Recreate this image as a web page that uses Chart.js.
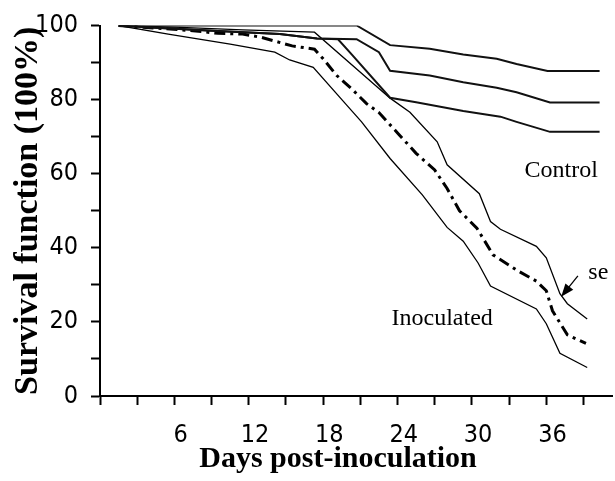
<!DOCTYPE html>
<html>
<head>
<meta charset="utf-8">
<script src="https://cdn.jsdelivr.net/npm/chart.js@4.4.1/dist/chart.umd.min.js"></script>
<style>
  html, body { margin: 0; padding: 0; background: #fff; }
  #wrap { width: 615px; height: 481px; }
</style>
</head>
<body>
<div id="wrap"><canvas id="chart"></canvas></div>
<script>
// days post-inoculation / survival (%)
const ctrlUpperDays = [1, 20.2, 22.9, 26.1, 28.8, 31.5, 33.1, 35.6, 39.8];
const ctrlUpper     = [100, 100, 94.7, 93.7, 92.2, 91, 89.6, 87.7, 87.7];

const ctrlMidDays = [1, 4, 9, 14, 17, 20.2, 22.0, 22.9, 26.1, 28.8, 31.5, 33.1, 35.8, 39.8];
const ctrlMid     = [100, 99.4, 98.5, 97.7, 96.5, 96.3, 92.8, 87.8, 86.5, 84.7, 83.2, 82, 79.2, 79.2];

const ctrlLowDays = [1, 4, 9, 14, 17, 18.7, 19.8, 22.9, 25, 28.8, 31.8, 33.1, 35.8, 39.8];
const ctrlLow     = [100, 99.4, 98.5, 97.7, 96.5, 96.3, 92.2, 80.5, 79.3, 76.9, 75.4, 74, 71.3, 71.3];

const inocUpperDays = [1, 6, 11, 16.8, 22.9, 24.5, 26.7, 27.5, 30.1, 31, 31.8, 34.7, 35.5, 36.6, 37.2, 38.8];
const inocUpper     = [100, 99.5, 98.8, 98.2, 80.4, 76.6, 68.6, 62.4, 54.6, 47.1, 45, 40.4, 37.3, 27.6, 24.9, 20.8];

const inocMeanDays = [1, 4, 7, 9, 11, 12.5, 15, 16.8, 17.5, 18.6, 19.8, 21, 22, 23.5, 25, 26.5, 27.5, 28.5, 29.9, 30.5, 31.2, 33.1, 34.7, 35.5, 36, 37.2, 38.7];
const inocMean     = [100, 99.3, 98.6, 97.9, 97.7, 96.8, 94.5, 93.6, 91, 86.5, 82.9, 78.9, 76.5, 71, 65.5, 61, 56, 50, 45.3, 42, 38.1, 34, 31, 28.4, 23, 16.5, 14.2];

const inocLowDays = [1, 5, 10, 13.6, 14.8, 16.7, 19.4, 20.6, 22.9, 25.5, 27.5, 28.8, 30, 31, 34.7, 35.5, 36.6, 38.8];
const inocLow     = [100, 97.7, 95, 92.8, 90.7, 88.7, 78.5, 74, 64.1, 54.3, 45.5, 41.8, 35.9, 29.7, 23.5, 19.5, 11.5, 7.7];

const xLabelDays = [6, 12, 18, 24, 30, 36];

// text notes placed in data coordinates
const noteTexts = ['Control', 'Inoculated', 'se'];
const noteDays  = [36.7, 27.1, 39.7];
const noteVals  = [60.8, 20.8, 33.2];
const arrowFrom = [38.05, 32.4];
const arrowTo   = [36.7, 26.8];

function pts(days, vals) {
    return days.map((d, i) => ({ x: d, y: vals[i] }));
}

const serif = "'Liberation Serif', 'Times New Roman', serif";
const narrow = "'Liberation Sans Narrow', 'DejaVu Sans Condensed', sans-serif";

const notesPlugin = {
    id: 'notes',
    afterDraw(chart) {
        const ctx = chart.ctx;
        const xs = chart.scales.x;
        const ys = chart.scales.y;
        ctx.save();
        ctx.fillStyle = '#000';
        ctx.font = '24px ' + serif;
        ctx.textAlign = 'center';
        ctx.textBaseline = 'middle';
        noteTexts.forEach((t, i) => {
            ctx.fillText(t, xs.getPixelForValue(noteDays[i]), ys.getPixelForValue(noteVals[i]));
        });

        // arrow to the se band
        const x1 = xs.getPixelForValue(arrowFrom[0]), y1 = ys.getPixelForValue(arrowFrom[1]);
        const x2 = xs.getPixelForValue(arrowTo[0]), y2 = ys.getPixelForValue(arrowTo[1]);
        const ang = Math.atan2(y2 - y1, x2 - x1);
        ctx.strokeStyle = '#000';
        ctx.lineWidth = 1.3;
        ctx.beginPath();
        ctx.moveTo(x1, y1);
        ctx.lineTo(x2 - 10 * Math.cos(ang), y2 - 10 * Math.sin(ang));
        ctx.stroke();
        ctx.beginPath();
        ctx.moveTo(x2, y2);
        ctx.lineTo(x2 - 13 * Math.cos(ang) + 5 * Math.sin(ang), y2 - 13 * Math.sin(ang) - 5 * Math.cos(ang));
        ctx.lineTo(x2 - 13 * Math.cos(ang) - 5 * Math.sin(ang), y2 - 13 * Math.sin(ang) + 5 * Math.cos(ang));
        ctx.closePath();
        ctx.fill();

        // x axis title
        ctx.font = 'bold 30px ' + serif;
        ctx.textAlign = 'center';
        ctx.textBaseline = 'alphabetic';
        ctx.fillText('Days post-inoculation', 338, 467);
        ctx.restore();
    }
};

const ctx = document.getElementById('chart');
new Chart(ctx, {
    type: 'line',
    data: {
        datasets: [
            { label: 'Control upper', data: pts(ctrlUpperDays, ctrlUpper), borderColor: '#111', borderWidth: 2 },
            { label: 'Control', data: pts(ctrlMidDays, ctrlMid), borderColor: '#111', borderWidth: 2 },
            { label: 'Control lower', data: pts(ctrlLowDays, ctrlLow), borderColor: '#111', borderWidth: 2 },
            { label: 'Inoculated upper', data: pts(inocUpperDays, inocUpper), borderColor: '#000', borderWidth: 1.3 },
            { label: 'Inoculated', data: pts(inocMeanDays, inocMean), borderColor: '#000', borderWidth: 3, borderDash: [11, 5, 3, 5] },
            { label: 'Inoculated lower', data: pts(inocLowDays, inocLow), borderColor: '#000', borderWidth: 1.3 }
        ]
    },
    options: {
        responsive: true,
        maintainAspectRatio: false,
        animation: false,
        devicePixelRatio: 1,
        layout: { padding: { top: 23, right: 3, bottom: 0, left: 0 } },
        elements: { point: { radius: 0 }, line: { tension: 0, fill: false } },
        plugins: { legend: { display: false }, tooltip: { enabled: false } },
        scales: {
            x: {
                type: 'linear',
                min: -0.5,
                max: 40.8,
                afterFit(scale) { scale.height = 85; },
                afterBuildTicks(scale) {
                    const t = [];
                    for (let v = -0.5; v < 40; v += 3) t.push({ value: v });
                    xLabelDays.forEach(d => t.push({ value: d }));
                    t.sort((a, b) => a.value - b.value);
                    scale.ticks = t;
                },
                border: { display: true, color: '#000', width: 2 },
                grid: {
                    drawOnChartArea: false,
                    drawTicks: true,
                    tickLength: 9,
                    tickWidth: 2,
                    tickColor: (c) => (c.tick && xLabelDays.includes(c.tick.value)) ? 'rgba(0,0,0,0)' : '#000'
                },
                ticks: {
                    autoSkip: false,
                    maxRotation: 0,
                    padding: 18,
                    color: '#000',
                    font: { family: narrow, size: 25, lineHeight: 1 },
                    callback: (v) => xLabelDays.includes(v) ? String(v) : ''
                }
            },
            y: {
                min: 0,
                max: 100,
                afterFit(scale) { scale.width = 100; },
                border: { display: true, color: '#000', width: 2 },
                grid: { drawOnChartArea: false, drawTicks: true, tickLength: 9, tickWidth: 2, tickColor: '#000' },
                ticks: {
                    stepSize: 10,
                    padding: 13,
                    color: '#000',
                    font: { family: narrow, size: 25, lineHeight: 1 },
                    callback: (v) => v % 20 === 0 ? String(v) : ''
                },
                title: {
                    display: true,
                    text: 'Survival function (100%)',
                    color: '#000',
                    font: { family: serif, size: 34, weight: 'bold', lineHeight: 1 },
                    padding: { top: 11, bottom: 0 }
                }
            }
        }
    },
    plugins: [notesPlugin]
});
</script>
</body>
</html>
